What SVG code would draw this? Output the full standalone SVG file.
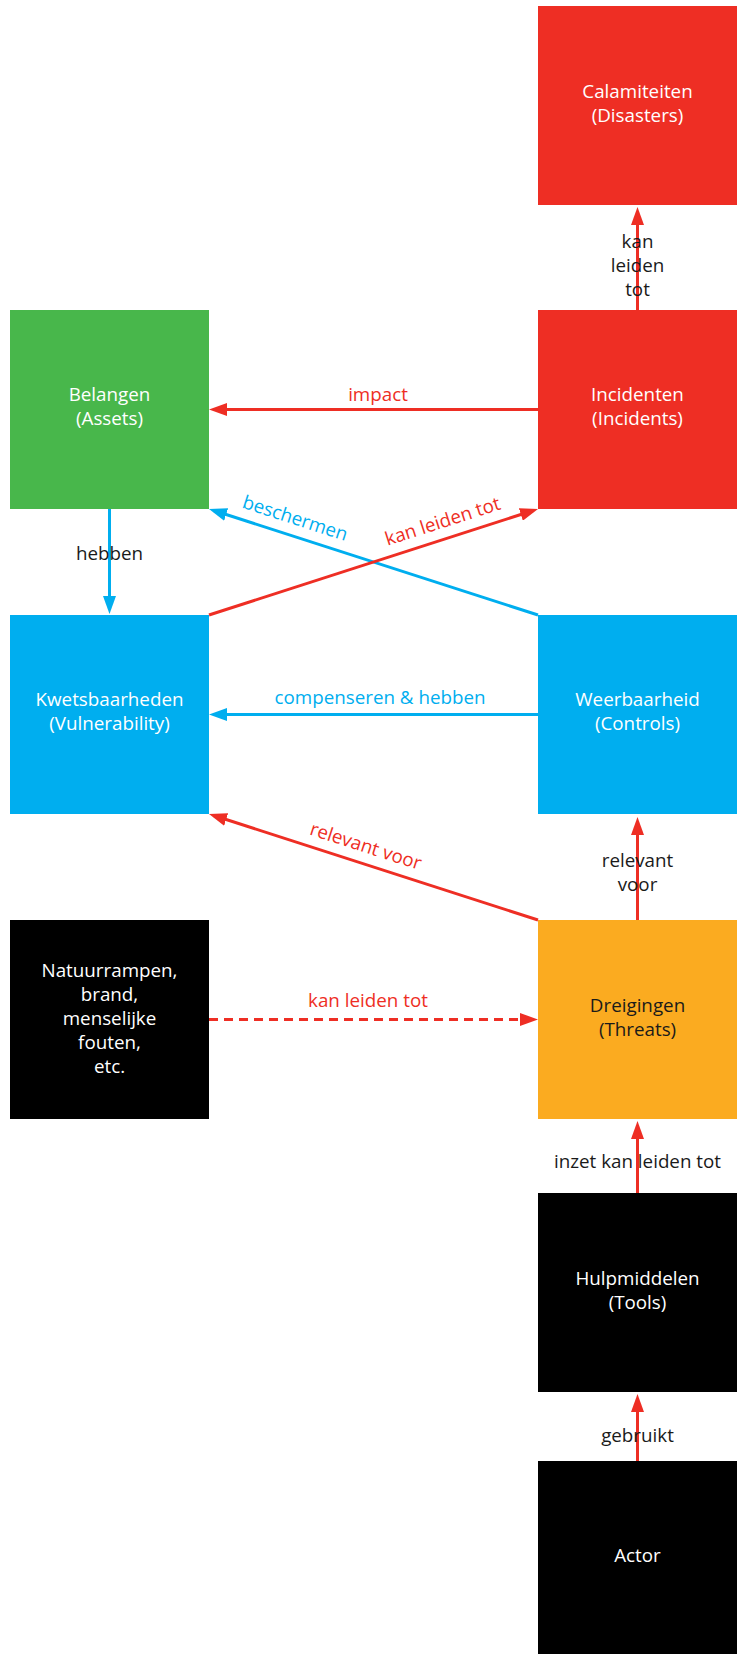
<svg xmlns="http://www.w3.org/2000/svg" width="739" height="1654" viewBox="0 0 739 1654">
<style>
text{font-family:"Open Sans","Noto Sans","Liberation Sans",sans-serif;font-size:18.8px;text-anchor:middle}
.w{fill:#ffffff}
.k{fill:#1a1a1a}
.rl{fill:#ee2e24}
.bl{fill:#00aeef}
.r{stroke:#ee2e24;stroke-width:3;fill:none}
.b{stroke:#00aeef;stroke-width:3;fill:none}
</style>
<defs>
<marker id="ar" markerUnits="userSpaceOnUse" markerWidth="18" markerHeight="13" refX="13" refY="6.5" orient="auto"><path d="M0,0 L18,6.5 L0,13 z" fill="#ee2e24"/></marker>
<marker id="ab" markerUnits="userSpaceOnUse" markerWidth="18" markerHeight="13" refX="13" refY="6.5" orient="auto"><path d="M0,0 L18,6.5 L0,13 z" fill="#00aeef"/></marker>
</defs>
<rect width="739" height="1654" fill="#ffffff"/>
<g id="calamiteiten"><rect x="538" y="6" width="199" height="199" fill="#ee2e24"/><text class="w" x="637.5" y="98">Calamiteiten</text><text class="w" x="637.5" y="122">(Disasters)</text></g>
<g id="incidenten"><rect x="538" y="310" width="199" height="199" fill="#ee2e24"/><text class="w" x="637.5" y="401">Incidenten</text><text class="w" x="637.5" y="425">(Incidents)</text></g>
<g id="belangen"><rect x="10" y="310" width="199" height="199" fill="#48b74b"/><text class="w" x="109.5" y="401">Belangen</text><text class="w" x="109.5" y="425">(Assets)</text></g>
<g id="kwetsbaarheden"><rect x="10" y="615" width="199" height="199" fill="#00aeef"/><text class="w" x="109.5" y="706">Kwetsbaarheden</text><text class="w" x="109.5" y="730">(Vulnerability)</text></g>
<g id="weerbaarheid"><rect x="538" y="615" width="199" height="199" fill="#00aeef"/><text class="w" x="637.5" y="706">Weerbaarheid</text><text class="w" x="637.5" y="730">(Controls)</text></g>
<g id="natuurrampen"><rect x="10" y="920" width="199" height="199" fill="#000000"/><text class="w" x="109.5" y="977">Natuurrampen,</text><text class="w" x="109.5" y="1001">brand,</text><text class="w" x="109.5" y="1025">menselijke</text><text class="w" x="109.5" y="1049">fouten,</text><text class="w" x="109.5" y="1073">etc.</text></g>
<g id="dreigingen"><rect x="538" y="920" width="199" height="199" fill="#fbab20"/><text class="k" x="637.5" y="1012">Dreigingen</text><text class="k" x="637.5" y="1036">(Threats)</text></g>
<g id="hulpmiddelen"><rect x="538" y="1193" width="199" height="199" fill="#000000"/><text class="w" x="637.5" y="1285">Hulpmiddelen</text><text class="w" x="637.5" y="1309">(Tools)</text></g>
<g id="actor"><rect x="538" y="1461" width="199" height="199" fill="#000000"/><text class="w" x="637.5" y="1562">Actor</text></g>
<g id="connectors">
<path class="r" d="M637.5,310 V212" marker-end="url(#ar)"/>
<text class="k" x="637.5" y="248">kan</text><text class="k" x="637.5" y="272">leiden</text><text class="k" x="637.5" y="296">tot</text>
<path class="r" d="M538,409.5 H214" marker-end="url(#ar)"/>
<text class="rl" x="378" y="401">impact</text>
<path class="b" d="M109.5,509 V609" marker-end="url(#ab)"/>
<text class="k" x="109.5" y="560">hebben</text>
<path class="b" d="M538,615 L213.76,510.53" marker-end="url(#ab)"/>
<text class="bl" transform="translate(295,518.6) rotate(17.86)" x="0" y="6">beschermen</text>
<path class="r" d="M209,615 L533.24,510.53" marker-end="url(#ar)"/>
<text class="rl" transform="translate(442.7,521.7) rotate(-17.86)" x="0" y="6">kan leiden tot</text>
<path class="b" d="M538,714.5 H214" marker-end="url(#ab)"/>
<text class="bl" x="380" y="704">compenseren &amp; hebben</text>
<path class="r" d="M538,920 L213.76,815.53" marker-end="url(#ar)"/>
<text class="rl" transform="translate(365.7,846.4) rotate(17.86)" x="0" y="6">relevant voor</text>
<path class="r" d="M637.5,920 V822" marker-end="url(#ar)"/>
<text class="k" x="637.5" y="867">relevant</text><text class="k" x="637.5" y="891">voor</text>
<path class="r" d="M209,1019.5 H533" stroke-dasharray="9 6" marker-end="url(#ar)"/>
<text class="rl" x="368" y="1007">kan leiden tot</text>
<path class="r" d="M637.5,1193 V1126" marker-end="url(#ar)"/>
<text class="k" x="637.5" y="1168">inzet kan leiden tot</text>
<path class="r" d="M637.5,1461 V1399" marker-end="url(#ar)"/>
<text class="k" x="637.5" y="1442">gebruikt</text>
</g>
</svg>
